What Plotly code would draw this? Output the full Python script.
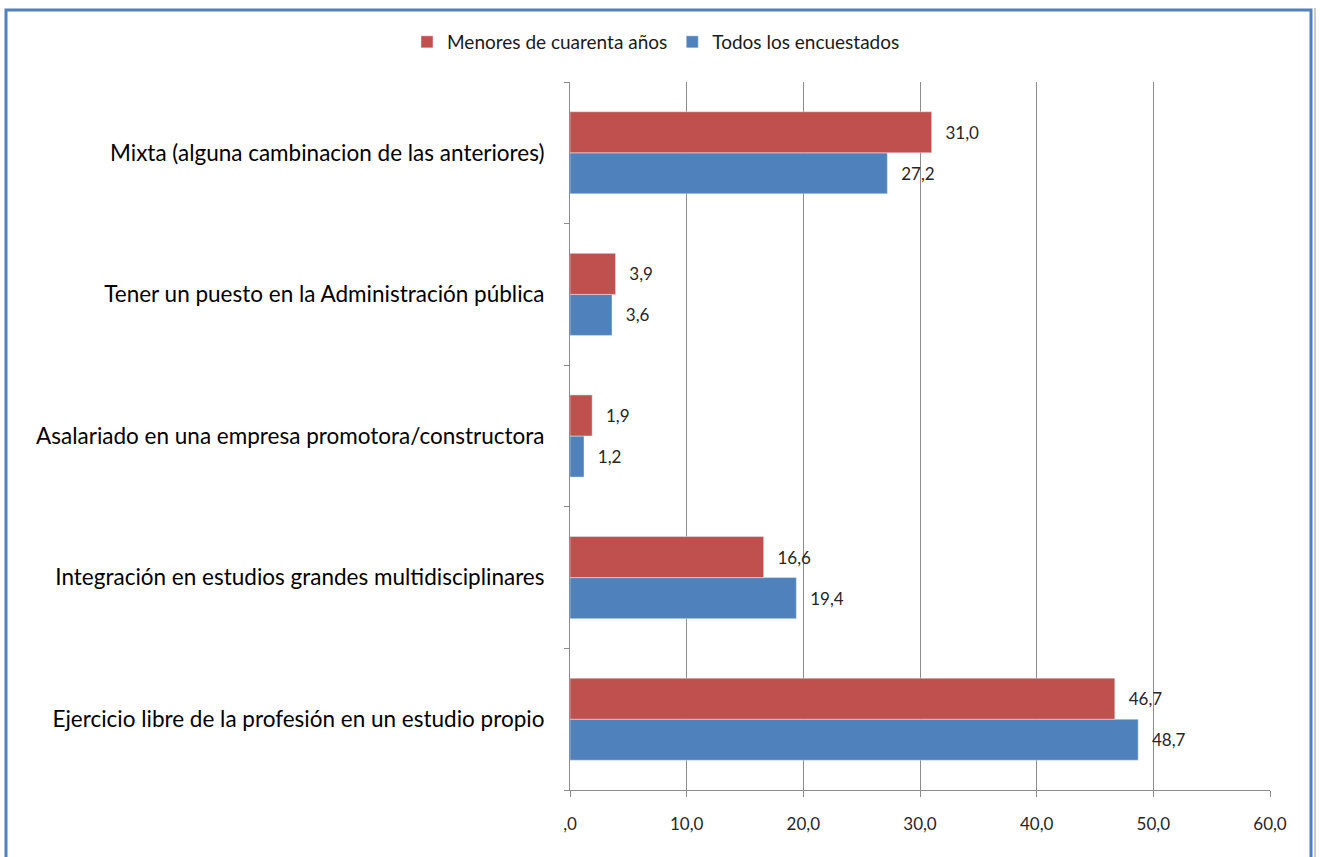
import plotly.graph_objects as go

categories = [
    "Ejercicio libre de la profesión en un estudio propio",
    "Integración en estudios grandes multidisciplinares",
    "Asalariado en una empresa promotora/constructora",
    "Tener un puesto en la Administración pública",
    "Mixta (alguna cambinacion de las anteriores)",
]
menores = [46.7, 16.6, 1.9, 3.9, 31.0]
todos = [48.7, 19.4, 1.2, 3.6, 27.2]
tick_vals = [0, 10, 20, 30, 40, 50, 60]
tick_text = [",0", "10,0", "20,0", "30,0", "40,0", "50,0", "60,0"]

RED = "#C0504D"
BLUE = "#4F81BD"
FONT = "Lato, 'Open Sans', sans-serif"
PAD = "\u00a0\u00a0\u2009"

fig = go.Figure()
fig.add_trace(go.Bar(
    y=categories, x=todos, orientation="h", name="Todos los encuestados",
    marker=dict(color=BLUE), text=todos, texttemplate=PAD + "%{x:.1f}",
    textposition="outside", cliponaxis=False, legendrank=2,
    textfont=dict(size=17, color="#262626"),
))
fig.add_trace(go.Bar(
    y=categories, x=menores, orientation="h", name="Menores de cuarenta años",
    marker=dict(color=RED), text=menores, texttemplate=PAD + "%{x:.1f}",
    textposition="outside", cliponaxis=False, legendrank=1,
    textfont=dict(size=17, color="#262626"),
))

W, H = 1320, 857
L, R, T, B = 570, 50, 82, 67
pw, ph = W - L - R, H - T - B

def px(xs):
    return (xs - L) / pw

def py(ys):
    return (H - B - ys) / ph

fig.update_layout(
    width=W, height=H,
    margin=dict(l=L, r=R, t=T, b=B),
    paper_bgcolor="white", plot_bgcolor="white",
    barmode="group", bargap=0.42, bargroupgap=0,
    separators=",.",
    font=dict(family=FONT, size=17, color="#262626"),
    showlegend=True,
    legend=dict(orientation="h", x=px(656), xanchor="center", y=py(42), yanchor="middle",
                font=dict(size=19, color="#1a1a1a"), itemwidth=30),
    xaxis=dict(range=[0, 60], tickvals=tick_vals, ticktext=tick_text,
               showgrid=True, gridcolor="#8C8C8C", gridwidth=1,
               showline=True, linecolor="#8C8C8C", linewidth=1,
               ticks="outside", ticklen=6, tickcolor="#8C8C8C",
               ticklabelstandoff=13, zeroline=False,
               tickfont=dict(size=17)),
    yaxis=dict(type="category", categoryorder="array", categoryarray=categories,
               showline=True, linecolor="#8C8C8C", linewidth=1,
               ticks="outside", ticklen=5, tickcolor="#8C8C8C", tickson="boundaries",
               ticklabelstandoff=20, showgrid=False,
               tickfont=dict(size=22.5, color="#000000")),
    shapes=[
        dict(type="rect", xref="paper", yref="paper",
             x0=px(6), x1=px(1311), y0=py(880), y1=py(10),
             line=dict(color=BLUE, width=3), fillcolor="rgba(0,0,0,0)", layer="above"),
        dict(type="line", xref="paper", yref="paper",
             x0=px(1315), x1=px(1315), y0=py(880), y1=py(8),
             line=dict(color="#9A9A9A", width=1)),
    ],
)

fig.write_html(
    "out.html",
    config={"displayModeBar": False},
    post_script="document.body.style.margin='0';document.body.style.overflow='hidden';",
)
